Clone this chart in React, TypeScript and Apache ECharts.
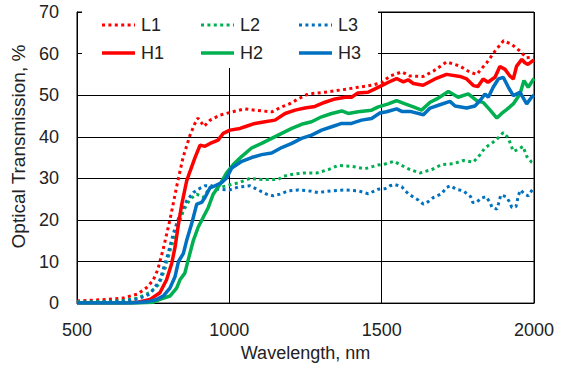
import React, { useEffect, useRef } from "react";
import * as echarts from "echarts";

// Wavelength (nm), optical transmission (%)
const L1: [number, number][] = [
  [500, 0.5], [550, 0.7], [600, 0.9], [650, 1.2], [700, 2.2], [730, 3.8], [750, 5.5], [765, 8],
  [783, 13], [805, 20], [827, 28], [848, 35], [871, 40.4], [887, 43.2], [897, 44.5], [907, 43.5],
  [917, 42.5], [937, 44], [969, 45.2], [1000, 45.8], [1050, 46.7], [1094, 46.3], [1140, 46],
  [1173, 47.2], [1200, 48], [1226, 49.1], [1259, 50.3], [1314, 50.7], [1370, 51.3], [1422, 51.9],
  [1468, 52.4], [1500, 53], [1527, 54.6], [1566, 55.6], [1593, 54.6], [1636, 54.5], [1670, 55.8],
  [1713, 58], [1757, 57], [1790, 55.5], [1812, 55], [1845, 57.8], [1872, 60.6], [1900, 63.1],
  [1927, 62.2], [1954, 60.6], [1975, 59], [2000, 59.2],
];
const L2: [number, number][] = [
  [500, 0.3], [600, 0.4], [650, 0.6], [700, 1.2], [740, 2.6], [770, 4.6], [790, 8.5], [805, 12.5],
  [827, 17.5], [849, 22.2], [871, 25], [893, 26.2], [914, 25.4], [937, 27.8], [969, 27.8],
  [1000, 28.4], [1029, 28.9], [1068, 30], [1106, 29.7], [1160, 29.7], [1177, 30.5], [1216, 31.1],
  [1248, 31.3], [1287, 31.3], [1325, 32.1], [1357, 33.1], [1401, 32.9], [1445, 32.3], [1488, 33.2],
  [1505, 33.3], [1541, 34.1], [1560, 33.3], [1593, 32.1], [1626, 31.3], [1664, 32.1], [1697, 33.3],
  [1735, 33.5], [1768, 34.3], [1801, 33.9], [1823, 35.7], [1839, 37.3], [1866, 38.7], [1885, 39.9],
  [1899, 41], [1915, 39.8], [1932, 36.5], [1948, 36.9], [1964, 37.7], [1976, 35.3], [1992, 33.9],
  [2000, 33.6],
];
const L3: [number, number][] = [
  [500, 0.2], [600, 0.3], [650, 0.5], [700, 1.0], [740, 2.2], [772, 5.5], [800, 12.2], [816, 16.7],
  [838, 21.4], [860, 24.6], [882, 26.6], [898, 27.4], [920, 28.2], [942, 28.2], [964, 27.4],
  [1000, 27.2], [1029, 27.9], [1068, 28.2], [1090, 27.4], [1122, 26.2], [1144, 25.8], [1166, 26.2],
  [1194, 27], [1226, 27.2], [1259, 27], [1292, 26.6], [1336, 27], [1380, 27.2], [1423, 27],
  [1456, 26.3], [1489, 27.4], [1511, 27.5], [1527, 28.2], [1544, 28.5], [1566, 28], [1577, 27],
  [1593, 26], [1620, 24.8], [1637, 23.8], [1653, 24.4], [1670, 25.4], [1697, 26.3], [1713, 27.8],
  [1726, 28.2], [1744, 27.4], [1768, 27], [1792, 25.6], [1799, 24.2], [1812, 24.2], [1825, 25.2],
  [1842, 25.6], [1856, 24.2], [1862, 23], [1878, 22.6], [1883, 23.8], [1891, 26], [1908, 25.6],
  [1921, 24.2], [1927, 23], [1941, 23.2], [1949, 26], [1956, 27.2], [1967, 26.3], [1981, 25.8],
  [1992, 27], [2000, 27.8],
];
const H1: [number, number][] = [
  [500, 0], [650, 0], [700, 0.2], [740, 0.9], [772, 2.5], [794, 5.6], [811, 9.6], [822, 13.5],
  [833, 19], [844, 23.8], [860, 29.4], [871, 31.7], [887, 34.9], [904, 38], [920, 37.7], [937, 38.4],
  [963, 39.2], [980, 40.8], [1002, 41.6], [1035, 42], [1051, 42.4], [1084, 43.2], [1117, 43.6],
  [1150, 44], [1183, 45.6], [1216, 46.4], [1248, 46.9], [1281, 47.3], [1314, 48.3], [1347, 49.1],
  [1380, 49.5], [1401, 49.5], [1422, 50.5], [1455, 50.7], [1478, 51.5], [1500, 52.3], [1522, 53.1],
  [1549, 54], [1571, 53.2], [1587, 53.7], [1604, 52.8], [1636, 52.4], [1675, 53.9], [1713, 55],
  [1757, 54.5], [1779, 53.9], [1801, 52.3], [1816, 52.1], [1833, 53.9], [1849, 53.1], [1872, 54.3],
  [1888, 56.9], [1905, 56.2], [1921, 54.6], [1932, 53.9], [1943, 57], [1960, 58.6], [1970, 57.8],
  [1980, 57.4], [2000, 58.5],
];
const H2: [number, number][] = [
  [500, 0], [700, 0], [750, 0.2], [772, 0.9], [805, 1.7], [827, 3.6], [838, 5.6], [854, 7.2],
  [865, 10.4], [882, 15.1], [898, 18.3], [914, 20.6], [931, 23], [947, 26.2], [969, 28.5],
  [991, 31.3], [1013, 33.3], [1041, 35.3], [1073, 37.3], [1106, 38.4], [1139, 39.6], [1172, 40.8],
  [1205, 42], [1237, 43], [1270, 43.6], [1303, 44.8], [1336, 45.6], [1369, 46.2], [1390, 45.6],
  [1423, 46], [1467, 46.4], [1489, 47.2], [1522, 47.9], [1549, 48.7], [1577, 47.9], [1604, 47.2],
  [1631, 46.4], [1659, 48.3], [1681, 49.1], [1719, 50.9], [1751, 49.5], [1784, 50.3], [1812, 48.7],
  [1834, 48.2], [1856, 46.4], [1878, 44.5], [1894, 45.6], [1911, 46.6], [1932, 47.9], [1954, 50.3],
  [1967, 53.5], [1981, 51.9], [2000, 54],
];
const H3: [number, number][] = [
  [500, 0], [680, 0], [730, 0.3], [762, 0.9], [783, 1.7], [805, 3.6], [822, 6.4], [833, 10],
  [849, 11.9], [860, 15.1], [876, 19], [893, 23.8], [909, 24.2], [920, 25.4], [937, 27.8],
  [953, 28.2], [975, 29], [991, 30.1], [1008, 32.5], [1041, 34.1], [1073, 35], [1106, 35.7],
  [1139, 36.1], [1172, 37.4], [1205, 38.4], [1237, 39.6], [1270, 40.4], [1303, 41.6], [1336, 42.4],
  [1369, 43.2], [1401, 43.2], [1434, 44], [1467, 44.4], [1494, 45.7], [1516, 46], [1549, 46.7],
  [1566, 46.1], [1593, 46.1], [1637, 45.3], [1659, 46.9], [1691, 47.7], [1724, 48.5], [1741, 47.4],
  [1779, 46.9], [1806, 47.4], [1823, 48.7], [1839, 50.3], [1850, 49.5], [1866, 51.9], [1883, 53.9],
  [1899, 54.3], [1916, 51.9], [1932, 49.9], [1954, 50.7], [1976, 47.9], [1992, 49.5], [2000, 50],
];

const SERIES_NAMES = ["L1", "L2", "L3", "H1", "H2", "H3"];
const SERIES_DATA = [L1, L2, L3, H1, H2, H3];
const COLORS = ["#FF0000", "#00B050", "#0070C0", "#FF0000", "#00B050", "#0070C0"];
const DOTTED = [true, true, true, false, false, false];

const X_AXIS_TITLE = "Wavelength, nm";
const Y_AXIS_TITLE = "Optical Transmission, %";

const FONT = "Liberation Sans";
const TEXT_COLOR = "#222";
const DOT_DASH = [3, 3.4];

export default function App() {
  const ref = useRef<HTMLDivElement>(null);

  useEffect(() => {
    if (!ref.current) return;
    const chart = echarts.init(ref.current, undefined, { renderer: "svg" });

    const legendCols = [102, 201, 299];
    const legendRows = [25, 53];
    const legendGraphics: any[] = [
      {
        type: "rect",
        z: 20,
        shape: { x: 82, y: 11, width: 296, height: 57 },
        style: { fill: "#fff" },
      },
    ];
    SERIES_NAMES.forEach((name, i) => {
      const col = i % 3;
      const row = Math.floor(i / 3);
      const x = legendCols[col];
      const y = legendRows[row];
      legendGraphics.push({
        type: "line",
        z: 21,
        shape: { x1: x, y1: y, x2: x + 33, y2: y },
        style: {
          stroke: COLORS[i],
          lineWidth: DOTTED[i] ? 3 : 3.5,
          lineDash: DOTTED[i] ? DOT_DASH : null,
        },
      });
      legendGraphics.push({
        type: "text",
        z: 21,
        x: x + 39,
        y: y,
        style: {
          text: name,
          fontSize: 18,
          fontFamily: FONT,
          fill: TEXT_COLOR,
          verticalAlign: "middle",
          align: "left",
        },
      });
    });

    chart.setOption({
      animation: false,
      backgroundColor: "#fff",
      grid: {
        left: 77,
        right: 32,
        top: 12,
        bottom: 60,
        show: true,
        borderColor: "#000",
        borderWidth: 1,
      },
      xAxis: {
        type: "value",
        min: 500,
        max: 2000,
        interval: 500,
        name: X_AXIS_TITLE,
        nameLocation: "middle",
        nameGap: 34,
        nameTextStyle: { fontSize: 18, fontFamily: FONT, color: TEXT_COLOR },
        axisLine: { show: true, lineStyle: { color: "#000", width: 1 } },
        axisTick: { show: false },
        axisLabel: {
          fontSize: 18,
          fontFamily: FONT,
          color: TEXT_COLOR,
          margin: 18,
          formatter: (v: number) => String(v),
        },
        splitLine: { show: true, lineStyle: { color: "#000", width: 1 } },
      },
      yAxis: {
        type: "value",
        min: 0,
        max: 70,
        interval: 10,
        name: Y_AXIS_TITLE,
        nameLocation: "middle",
        nameGap: 46,
        nameRotate: 90,
        nameTextStyle: {
          fontSize: 19,
          fontFamily: FONT,
          color: TEXT_COLOR,
          padding: [0, 0, 0, 22],
        },
        axisLine: { show: true, lineStyle: { color: "#000", width: 1 } },
        axisTick: { show: false },
        axisLabel: {
          fontSize: 18,
          fontFamily: FONT,
          color: TEXT_COLOR,
          margin: 18,
          formatter: (v: number) => String(v),
        },
        splitLine: { show: true, lineStyle: { color: "#000", width: 1 } },
      },
      series: SERIES_NAMES.map((name, i) => ({
        name,
        type: "line",
        data: SERIES_DATA[i],
        showSymbol: false,
        symbol: "none",
        smooth: false,
        z: DOTTED[i] ? 2 : 3,
        lineStyle: {
          color: COLORS[i],
          width: DOTTED[i] ? 3 : 3.5,
          type: DOTTED[i] ? DOT_DASH : "solid",
          cap: "butt",
        },
        itemStyle: { color: COLORS[i] },
      })),
      graphic: legendGraphics,
    });

    return () => chart.dispose();
  }, []);

  return (
    <div
      ref={ref}
      style={{ width: 566, height: 367, position: "absolute", left: 0, top: 0 }}
    />
  );
}
